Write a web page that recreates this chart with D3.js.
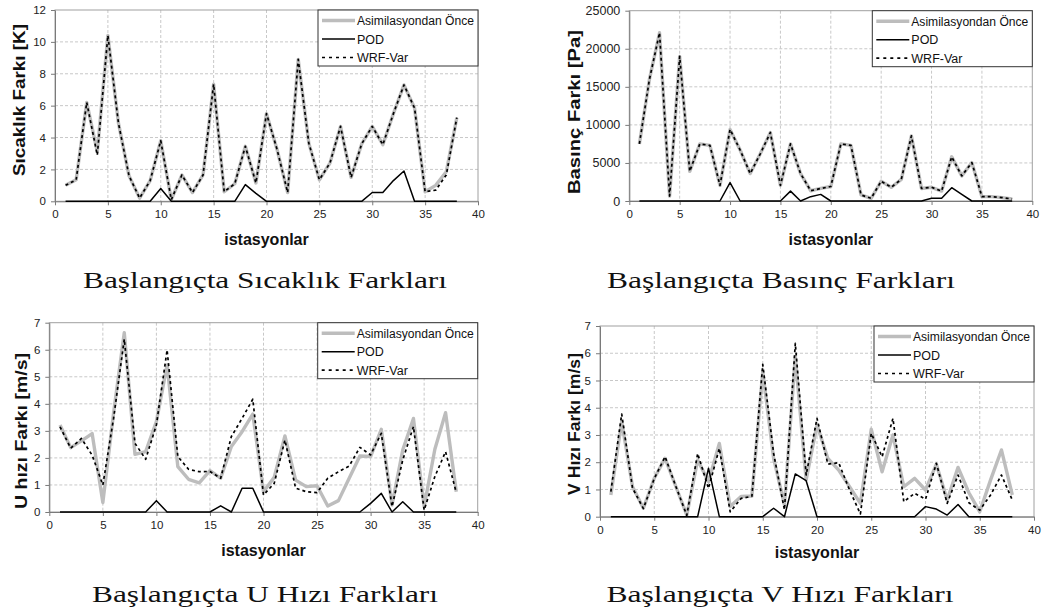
<!DOCTYPE html>
<html>
<head>
<meta charset="utf-8">
<script src="https://cdn.jsdelivr.net/npm/d3@7"></script>
<style>
  body { margin: 0; background: #fff; }
  svg { display: block; }
</style>
</head>
<body>
<svg id="chart" width="1044" height="614"></svg>
<script>
// Station numbers (x axis)
const stations = [1, 2, 3, 4, 5, 6, 7, 8, 9, 10, 11, 12, 13, 14, 15, 16, 17, 18, 19, 20,
  21, 22, 23, 24, 25, 26, 27, 28, 29, 30, 31, 32, 33, 34, 35, 36, 37, 38];

const seriesNames = ["Asimilasyondan Önce", "POD", "WRF-Var"];
const xTicks = [0, 5, 10, 15, 20, 25, 30, 35, 40];
const xLabel = "istasyonlar";

// Temperature differences [K]
const sicaklikOnce = [1.0, 1.35, 6.2, 3.1, 10.4, 4.9, 1.6, 0.2, 1.3, 3.8, 0.1, 1.65, 0.55, 1.65, 7.35, 0.6, 1.1, 3.45, 1.15,
  5.5, 3.25, 0.55, 8.9, 3.65, 1.35, 2.4, 4.7, 1.5, 3.6, 4.7, 3.55, 5.5, 7.3, 5.85, 0.6, 1.0, 1.85, 5.25];
const sicaklikPod = [0, 0, 0, 0, 0, 0, 0, 0, 0, 0.8, 0, 0, 0, 0, 0, 0, 0, 1.05, 0.5,
  0, 0, 0, 0, 0, 0, 0, 0, 0, 0, 0.55, 0.55, 1.3, 1.9, 0, 0, 0, 0, 0];
const sicaklikWrf = [1.0, 1.35, 6.2, 2.9, 10.4, 4.9, 1.6, 0.2, 1.3, 3.8, 0.1, 1.65, 0.55, 1.65, 7.35, 0.6, 1.1, 3.45, 1.15,
  5.5, 3.25, 0.55, 8.9, 3.65, 1.35, 2.4, 4.7, 1.5, 3.6, 4.7, 3.55, 5.5, 7.3, 5.85, 0.6, 0.7, 1.65, 5.25];
const sicaklikTicks = [0, 2, 4, 6, 8, 10, 12];

// Pressure differences [Pa]
const basincOnce = [7500, 16000, 22100, 650, 19000, 3900, 7500, 7300, 2050, 9400, 6700, 3600, 6200, 9000, 2050, 7500, 3600, 1350, 1650,
  1900, 7500, 7300, 800, 350, 2600, 1800, 2850, 8550, 1650, 1800, 1300, 5800, 3300, 5050, 570, 570, 450, 260];
const basincPod = [0, 0, 0, 0, 0, 0, 0, 0, 0, 2400, 0, 0, 0, 0, 0, 1300, 0, 570, 870,
  0, 0, 0, 0, 0, 0, 0, 0, 0, 0, 350, 350, 1750, 870, 0, 0, 0, 0, 0];
const basincWrf = [7500, 16000, 22100, 650, 19000, 3900, 7500, 7300, 2050, 9400, 6700, 3600, 6200, 9000, 2050, 7500, 3600, 1350, 1650,
  1900, 7500, 7300, 800, 350, 2600, 1800, 2850, 8550, 1650, 1800, 1300, 5800, 3300, 5050, 570, 570, 450, 260];
const basincTicks = [0, 5000, 10000, 15000, 20000, 25000];

// U wind differences [m/s]
const uOnce = [3.22, 2.38, 2.63, 2.9, 0.35, 3.65, 6.63, 2.13, 2.23, 3.34, 5.44, 1.68, 1.21, 1.08, 1.53, 1.25, 2.42, 2.97, 3.62,
  0.75, 1.28, 2.81, 1.18, 0.94, 0.97, 0.22, 0.42, 1.25, 2.07, 2.05, 3.06, 0.26, 2.29, 3.46, 0.2, 2.32, 3.67, 0.75];
const uPod = [0, 0, 0, 0, 0, 0, 0, 0, 0, 0.42, 0, 0, 0, 0, 0, 0.23, 0, 0.88, 0.88,
  0, 0, 0, 0, 0, 0, 0, 0, 0, 0, 0.32, 0.69, 0, 0.38, 0, 0, 0, 0, 0];
const uWrf = [3.15, 2.36, 2.72, 2.1, 1.0, 3.46, 6.39, 2.54, 1.95, 3.22, 5.99, 2.05, 1.58, 1.49, 1.5, 1.25, 2.79, 3.46, 4.17,
  0.63, 1.06, 2.66, 0.88, 0.75, 0.72, 1.25, 1.49, 1.7, 2.39, 2.11, 2.91, 0.2, 1.92, 3.16, 0.07, 1.31, 2.23, 0.72];
const uTicks = [0, 1, 2, 3, 4, 5, 6, 7];

// V wind differences [m/s]
const vOnce = [0.8, 3.49, 1.1, 0.31, 1.41, 2.14, 1.1, 0.06, 2.08, 1.28, 2.69, 0.37, 0.74, 0.76, 5.32, 2.14, 0.43, 5.88, 1.35,
  3.37, 2.14, 1.71, 1.1, 0.49, 3.21, 1.65, 3.0, 1.1, 1.41, 0.98, 1.93, 0.61, 1.81, 0.88, 0.18, 1.35, 2.45, 0.8];
const vPod = [0, 0, 0, 0, 0, 0, 0, 0, 0, 1.78, 0, 0, 0, 0, 0, 0.31, 0, 1.57, 1.32,
  0, 0, 0, 0, 0, 0, 0, 0, 0, 0, 0.37, 0.28, 0.06, 0.45, 0, 0, 0, 0, 0];
const vWrf = [0.92, 3.77, 1.05, 0.3, 1.4, 2.2, 1.1, 0.05, 2.32, 1.04, 2.51, 0.18, 0.67, 0.75, 5.59, 2.33, 0.25, 6.36, 1.53,
  3.61, 1.93, 1.98, 0.98, 0.1, 3.06, 2.2, 3.61, 0.55, 0.86, 0.64, 1.96, 0.49, 1.53, 0.51, 0.24, 0.8, 1.53, 0.61];
const vTicks = [0, 1, 2, 3, 4, 5, 6, 7];

// Panel layout: plot box, label placement
const panels = [
  { once: sicaklikOnce, pod: sicaklikPod, wrf: sicaklikWrf, yTicks: sicaklikTicks,
    yLabel: "Sıcaklık Farkı [K]", title: "Başlangıçta Sıcaklık Farkları",
    x0: 55, x1: 478, y0: 201.3, y1: 10, yTickFont: 11.5,
    yLabX: 25, yLabY: 100, yLabLen: 152, xLabY: 245, titleX: 265, titleY: 288, titleLen: 364 },
  { once: basincOnce, pod: basincPod, wrf: basincWrf, yTicks: basincTicks,
    yLabel: "Basınç Farkı [Pa]", title: "Başlangıçta Basınç Farkları",
    x0: 629.3, x1: 1032.3, y0: 201, y1: 10.7, yTickFont: 12.5,
    yLabX: 580, yLabY: 112, yLabLen: 164, xLabY: 245, titleX: 781, titleY: 288, titleLen: 348 },
  { once: uOnce, pod: uPod, wrf: uWrf, yTicks: uTicks,
    yLabel: "U hızı Farkı [m/s]", title: "Başlangıçta U Hızı Farkları",
    x0: 49.3, x1: 477.7, y0: 512, y1: 322.7, yTickFont: 11.5,
    yLabX: 27, yLabY: 431, yLabLen: 156, xLabY: 556, titleX: 265, titleY: 602, titleLen: 346 },
  { once: vOnce, pod: vPod, wrf: vWrf, yTicks: vTicks,
    yLabel: "V Hızı Farkı [m/s]", title: "Başlangıçta V Hızı Farkları",
    x0: 600, x1: 1034, y0: 516.7, y1: 326, yTickFont: 11.5,
    yLabX: 580, yLabY: 424, yLabLen: 142, xLabY: 558, titleX: 780, titleY: 602, titleLen: 347 }
];

const svg = d3.select("#chart");
const sans = "'Liberation Sans', Arial, sans-serif";

// line styles for the three series, shared by plot and legend
const styles = [
  { stroke: "#bdbdbd", width: 3.4, dash: null, legendDash: null },
  { stroke: "#000", width: 1.5, dash: null, legendDash: null },
  { stroke: "#000", width: 1.7, dash: "3,3", legendDash: "3,4" }
];

panels.forEach(p => {
  const x = d3.scaleLinear().domain([0, 40]).range([p.x0, p.x1]);
  const yMax = p.yTicks[p.yTicks.length - 1];
  const y = d3.scaleLinear().domain([0, yMax]).range([p.y0, p.y1]);
  const g = svg.append("g");

  // dashed grid
  g.selectAll(null).data(xTicks.filter(t => t > 0 && t < 40)).enter().append("line")
    .attr("x1", d => x(d)).attr("x2", d => x(d)).attr("y1", p.y1).attr("y2", p.y0)
    .attr("stroke", "#c8c8c8").attr("stroke-width", 1).attr("stroke-dasharray", "3,2");
  g.selectAll(null).data(p.yTicks.filter(t => t > 0 && t < yMax)).enter().append("line")
    .attr("x1", p.x0).attr("x2", p.x1).attr("y1", d => y(d)).attr("y2", d => y(d))
    .attr("stroke", "#c8c8c8").attr("stroke-width", 1).attr("stroke-dasharray", "3,2");

  // plot frame
  g.append("rect").attr("x", p.x0).attr("y", p.y1)
    .attr("width", p.x1 - p.x0).attr("height", p.y0 - p.y1)
    .attr("fill", "none").attr("stroke", "#a0a0a0").attr("stroke-width", 1);

  // axes
  const ax = g.append("g").attr("transform", `translate(0,${p.y0})`)
    .call(d3.axisBottom(x).tickValues(xTicks).tickSize(4).tickPadding(5).tickSizeOuter(0));
  const ay = g.append("g").attr("transform", `translate(${p.x0},0)`)
    .call(d3.axisLeft(y).tickValues(p.yTicks).tickFormat(d3.format("d")).tickSize(4).tickPadding(5).tickSizeOuter(0));
  [ax, ay].forEach(a => {
    a.select(".domain").attr("stroke", "#7a7a7a");
    a.selectAll(".tick line").attr("stroke", "#7a7a7a");
    a.selectAll(".tick text").attr("fill", "#222").attr("font-family", sans);
  });
  ax.selectAll(".tick text").attr("font-size", 11.5);
  ay.selectAll(".tick text").attr("font-size", p.yTickFont);

  // series: before assimilation, POD, WRF-Var
  const line = d3.line().x(d => x(d[0])).y(d => y(d[1]));
  const pts = arr => stations.map((s, i) => [s, arr[i]]);
  [p.once, p.pod, p.wrf].forEach((arr, i) => {
    g.append("path").attr("d", line(pts(arr))).attr("fill", "none")
      .attr("stroke", styles[i].stroke).attr("stroke-width", styles[i].width)
      .attr("stroke-linejoin", "round").attr("stroke-dasharray", styles[i].dash);
  });

  // legend
  const lg = g.append("g").attr("transform", `translate(${p.x1 - 160},${p.y1})`);
  lg.append("rect").attr("width", 160).attr("height", 56)
    .attr("fill", "#fff").attr("stroke", "#333").attr("stroke-width", 1);
  seriesNames.forEach((name, i) => {
    const yy = 10.5 + i * 18.5;
    lg.append("line").attr("x1", 4).attr("x2", 37).attr("y1", yy).attr("y2", yy)
      .attr("stroke", styles[i].stroke).attr("stroke-width", styles[i].width)
      .attr("stroke-dasharray", styles[i].legendDash);
    const t = lg.append("text").attr("x", 39).attr("y", yy).attr("dy", "0.36em")
      .attr("font-family", sans).attr("font-size", 12.5).attr("fill", "#111").text(name);
    if (i === 0) t.attr("textLength", 117).attr("lengthAdjust", "spacingAndGlyphs");
  });

  // axis titles
  g.append("text").attr("x", (p.x0 + p.x1) / 2).attr("y", p.xLabY)
    .attr("text-anchor", "middle").attr("font-family", sans).attr("font-weight", "bold")
    .attr("font-size", 16).attr("fill", "#111").text(xLabel);
  g.append("text").attr("transform", `translate(${p.yLabX},${p.yLabY}) rotate(-90)`)
    .attr("text-anchor", "middle").attr("font-family", sans).attr("font-weight", "bold")
    .attr("font-size", 17).attr("fill", "#111")
    .attr("textLength", p.yLabLen).attr("lengthAdjust", "spacingAndGlyphs").text(p.yLabel);

  // caption
  g.append("text").attr("x", p.titleX).attr("y", p.titleY)
    .attr("text-anchor", "middle").attr("font-family", "'Liberation Serif', 'Times New Roman', serif")
    .attr("font-size", 24).attr("fill", "#111")
    .attr("textLength", p.titleLen).attr("lengthAdjust", "spacingAndGlyphs").text(p.title);
});
</script>
</body>
</html>
